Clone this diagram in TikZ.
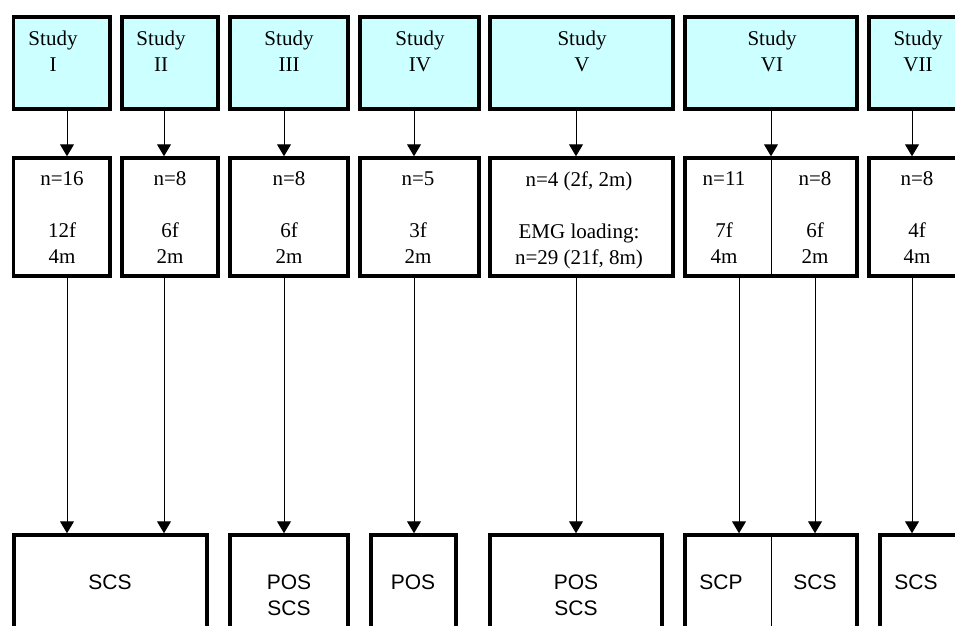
\documentclass[tikz,border=0pt]{standalone}
\usepackage{fontspec}
\setmainfont{Liberation Serif}
\setsansfont{Liberation Sans}
\usetikzlibrary{arrows.meta}
\definecolor{studycyan}{HTML}{CCFFFF}
\tikzset{
  box/.style={draw, line width=3.5pt, inner sep=0pt},
  studybox/.style={box, fill=studycyan, minimum height=92pt},
  countbox/.style={box, minimum height=118pt},
  methodbox/.style={box, minimum height=115pt},
  studytxt/.style={anchor=north, inner sep=0pt, align=center, font=\fontsize{21}{26}\selectfont},
  methodtxt/.style={studytxt, font=\sffamily\fontsize{21}{26}\selectfont},
  arr/.style={line width=1pt, -{Triangle[length=12pt, width=14pt]}}
}

\begin{document}
\begin{tikzpicture}[x=1pt, y=-1pt]
\clip (0,0) rectangle (955,625);

\path (61.75,63) node[studybox, minimum width=96.5pt] (sI) {}
      (170,63) node[studybox, minimum width=96pt] (sII) {}
      (289,63) node[studybox, minimum width=118pt] (sIII) {}
      (419.5,63) node[studybox, minimum width=119pt] (sIV) {}
      (581.5,63) node[studybox, minimum width=183pt] (sV) {}
      (771,63) node[studybox, minimum width=172pt] (sVI) {}
      (918,63) node[studybox, minimum width=98pt] (sVII) {};

\path (53,30.5) node[studytxt] (tI) {Study\\I}
      (161,30.5) node[studytxt] (tII) {Study\\II}
      (289,30.5) node[studytxt] (tIII) {Study\\III}
      (420,30.5) node[studytxt] (tIV) {Study\\IV}
      (582,30.5) node[studytxt] (tV) {Study\\V}
      (772,30.5) node[studytxt] (tVI) {Study\\VI}
      (918,30.5) node[studytxt] (tVII) {Study\\VII};

\path (61.75,217) node[countbox, minimum width=96.5pt] (cI) {}
      (170,217) node[countbox, minimum width=96pt] (cII) {}
      (289,217) node[countbox, minimum width=118pt] (cIII) {}
      (419.5,217) node[countbox, minimum width=119pt] (cIV) {}
      (581.5,217) node[countbox, minimum width=183pt] (cV) {}
      (771,217) node[countbox, minimum width=172pt] (cVI) {}
      (918,217) node[countbox, minimum width=98pt] (cVII) {};

\path (62,171.5) node[studytxt] (nI) {n=16\\[26pt]12f\\4m}
      (170,171.5) node[studytxt] (nII) {n=8\\[26pt]6f\\2m}
      (289,171.5) node[studytxt] (nIII) {n=8\\[26pt]6f\\2m}
      (418,171.5) node[studytxt] (nIV) {n=5\\[26pt]3f\\2m}
      (579,171.5) node[studytxt] (nV) {n=4 (2f, 2m)\\[26pt]EMG loading:\\n=29 (21f, 8m)}
      (724,171.5) node[studytxt] (nVIa) {n=11\\[26pt]7f\\4m}
      (815,171.5) node[studytxt] (nVIb) {n=8\\[26pt]6f\\2m}
      (917,171.5) node[studytxt] (nVII) {n=8\\[26pt]4f\\4m};

\path (110.5,592.5) node[methodbox, minimum width=193pt] (mI) {}
      (289,592.5) node[methodbox, minimum width=118pt] (mIII) {}
      (413.5,592.5) node[methodbox, minimum width=85pt] (mIV) {}
      (576,592.5) node[methodbox, minimum width=172pt] (mV) {}
      (771,592.5) node[methodbox, minimum width=172pt] (mVI) {}
      (921,592.5) node[methodbox, minimum width=82pt] (mVII) {};

\path (110,575) node[methodtxt] (pI) {SCS}
      (289,575) node[methodtxt] (pIII) {POS\\SCS}
      (413,575) node[methodtxt] (pIV) {POS}
      (576,575) node[methodtxt] (pV) {POS\\SCS}
      (721,575) node[methodtxt] (pVIa) {SCP}
      (815,575) node[methodtxt] (pVIb) {SCS}
      (916,575) node[methodtxt] (pVII) {SCS};

\draw[line width=1pt] (cVI.north) -- (cVI.south);
\draw[line width=1pt] (mVI.north) -- (mVI.south);

\coordinate (xI) at (67,0);
\coordinate (xII) at (164,0);
\coordinate (xIII) at (284,0);
\coordinate (xIV) at (414,0);
\coordinate (xV) at (576,0);
\coordinate (xVI) at (771,0);
\coordinate (xVIa) at (739,0);
\coordinate (xVIb) at (815,0);
\coordinate (xVII) at (912,0);

\draw[arr] (sI.south -| xI) -- (cI.north -| xI);
\draw[arr] (sII.south -| xII) -- (cII.north -| xII);
\draw[arr] (sIII.south -| xIII) -- (cIII.north -| xIII);
\draw[arr] (sIV.south -| xIV) -- (cIV.north -| xIV);
\draw[arr] (sV.south -| xV) -- (cV.north -| xV);
\draw[arr] (sVI.south -| xVI) -- (cVI.north -| xVI);
\draw[arr] (sVII.south -| xVII) -- (cVII.north -| xVII);

\draw[arr] (cI.south -| xI) -- (mI.north -| xI);
\draw[arr] (cII.south -| xII) -- (mI.north -| xII);
\draw[arr] (cIII.south -| xIII) -- (mIII.north -| xIII);
\draw[arr] (cIV.south -| xIV) -- (mIV.north -| xIV);
\draw[arr] (cV.south -| xV) -- (mV.north -| xV);
\draw[arr] (cVI.south -| xVIa) -- (mVI.north -| xVIa);
\draw[arr] (cVI.south -| xVIb) -- (mVI.north -| xVIb);
\draw[arr] (cVII.south -| xVII) -- (mVII.north -| xVII);
\end{tikzpicture}
\end{document}
